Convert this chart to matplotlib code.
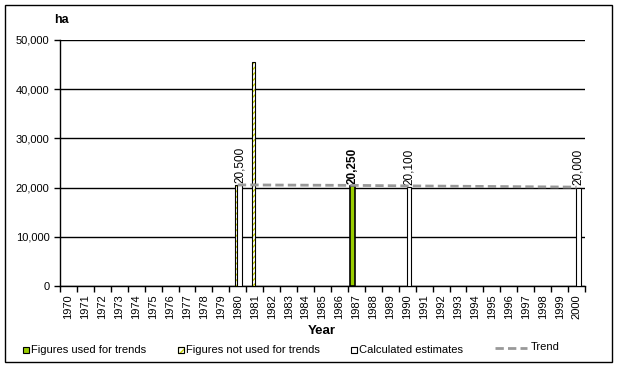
import numpy as np
import matplotlib
matplotlib.use('Agg')
import matplotlib.pyplot as plt
from matplotlib.lines import Line2D
from matplotlib.patches import Rectangle
from matplotlib.ticker import FuncFormatter, FixedLocator

plt.rcParams['font.family'] = ['Liberation Sans', 'DejaVu Sans']
plt.rcParams['hatch.linewidth'] = 1.0

#### data
years = list(range(1970, 2001))

used_years = [1987]
used_vals = [20250]

notused_years = [1980, 1981]
notused_vals = [20500, 45500]

calc_years = [1980, 1990, 2000]
calc_vals = [20500, 20100, 20000]

trend_years = [1980, 1987, 1990, 2000]
trend_vals = [20550, 20450, 20350, 20100]

#%%
W, H = 618, 367
fig = plt.figure(figsize=(W/100, H/100), dpi=100)
ax = fig.add_axes([60/W, 1 - 286/H, 525/W, 246/H])

idx = {y: i for i, y in enumerate(years)}
green = '#99cc00'
hatch_col = '#c8d400'

# figures used for trends
xu = [idx[y] - 0.22 for y in used_years]
ax.bar(xu, used_vals, width=0.3, color=green, edgecolor='black', linewidth=1.2, zorder=3)

# figures not used for trends (hatched)
xn = [idx[y] - 0.08 for y in notused_years]
ax.bar(xn, notused_vals, width=0.22, color='white', edgecolor=hatch_col, hatch='//////',
       linewidth=0, zorder=3)
ax.bar(xn, notused_vals, width=0.22, fill=False, edgecolor='black', linewidth=0.8, zorder=3)

# calculated estimates
xc = [idx[y] + 0.1 for y in calc_years]
ax.bar(xc, calc_vals, width=0.28, color='white', edgecolor='black', linewidth=0.8, zorder=3)

# trend
xt = [idx[y] for y in trend_years]
ax.plot(xt, trend_vals, color='#999999', lw=2, ls=(0, (3, 1.5)), zorder=4)

# value labels
for x, v in zip(xc, calc_vals):
    ax.text(x, v + 500, f'{v:,}', rotation=90, ha='center', va='bottom', fontsize=8.5)
for x, v in zip(xu, used_vals):
    ax.text(x, v + 500, f'{v:,}', rotation=90, ha='center', va='bottom', fontsize=8.5,
            fontweight='bold')

ax.set_ylim(0, 50000)
ax.set_xlim(-0.5, len(years) - 0.5)
ax.set_yticks(np.arange(0, 50001, 10000))
ax.yaxis.set_major_formatter(FuncFormatter(lambda v, p: f'{int(v):,}'))
ax.grid(axis='y', color='black', lw=1, zorder=1)
ax.set_xticks(range(len(years)))
ax.set_xticklabels([str(y) for y in years], rotation=90, fontsize=8)
ax.xaxis.set_minor_locator(FixedLocator(np.arange(-0.5, len(years), 1)))
ax.tick_params(axis='x', which='major', length=0, pad=6)
ax.tick_params(axis='x', which='minor', length=4, width=1)
ax.tick_params(axis='y', length=4, width=1, labelsize=8)
for s in ['top', 'right']:
    ax.spines[s].set_visible(False)
ax.spines['left'].set_linewidth(1)
ax.spines['bottom'].set_linewidth(1)

fig.text(54/W, 1 - 20/H, 'ha', fontsize=9, fontweight='bold', ha='left', va='center')
fig.text(322/W, 1 - 331/H, 'Year', fontsize=9.5, fontweight='bold', ha='center', va='center')

# legend, drawn by hand to keep Excel's spacing
ly = 1 - 350/H
sq = 6
def legend_box(x0, **kw):
    fig.patches.append(Rectangle((x0/W, ly - sq/2/H), sq/W, sq/H, transform=fig.transFigure,
                                 lw=0.8, **kw))
legend_box(23, facecolor=green, edgecolor='black')
legend_box(178, facecolor='white', edgecolor=hatch_col, hatch='/////')
fig.patches.append(Rectangle((178/W, ly - sq/2/H), sq/W, sq/H, transform=fig.transFigure,
                             fill=False, edgecolor='black', lw=0.8))
legend_box(351, facecolor='white', edgecolor='black')
fig.text(31/W, ly, 'Figures used for trends', fontsize=8, va='center')
fig.text(186/W, ly, 'Figures not used for trends', fontsize=8, va='center')
fig.text(359/W, ly, 'Calculated estimates', fontsize=8, va='center')
fig.lines.append(Line2D([495/W, 527/W], [1 - 348/H] * 2, transform=fig.transFigure,
                        color='#999999', lw=2, ls=(0, (3, 1.5))))
fig.text(531/W, 1 - 347/H, 'Trend', fontsize=8, va='center')

# outer border
fig.patches.append(Rectangle((5/W, 5/H), 607/W, 357/H, transform=fig.transFigure,
                             fill=False, edgecolor='black', lw=1))

fig.savefig('out.png', dpi=100)
